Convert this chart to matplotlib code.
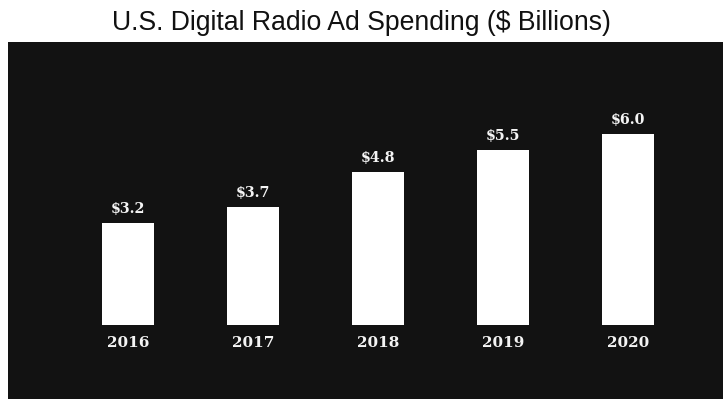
import matplotlib
matplotlib.use("Agg")
import matplotlib.pyplot as plt

years = ["2016", "2017", "2018", "2019", "2020"]
spending = [3.2, 3.7, 4.8, 5.5, 6.0]
value_labels = ["$3.2", "$3.7", "$4.8", "$5.5", "$6.0"]

fig = plt.figure(figsize=(7.23, 3.99), dpi=100)
fig.patch.set_facecolor("white")

ax = fig.add_axes([8 / 723, 0, 715 / 723, 357 / 399])
ax.set_facecolor("#121212")

x = list(range(len(years)))
ax.bar(x, spending, width=0.42, color="white", edgecolor="none")

for xi, v, lab in zip(x, spending, value_labels):
    ax.annotate(lab, (xi, v), xytext=(0, 5), textcoords="offset points",
                ha="center", va="bottom", color="#f4f4f4", fontsize=10.3,
                fontweight="bold", family="DejaVu Serif")
    ax.text(xi, -0.57, years[xi], ha="center", va="center", color="#f4f4f4",
            fontsize=11, fontweight="bold", family="DejaVu Serif")

ax.set_xlim(-0.96, 4.76)
ax.set_ylim(-2.32, 8.87)
ax.set_xticks([])
ax.set_yticks([])
for s in ax.spines.values():
    s.set_visible(False)

fig.text(0.5, 1 - 23 / 399, "U.S. Digital Radio Ad Spending ($ Billions)",
         ha="center", va="center", fontsize=19.2, family="Liberation Sans",
         color="#111111")

fig.savefig("out.png", dpi=100, facecolor=fig.get_facecolor())
